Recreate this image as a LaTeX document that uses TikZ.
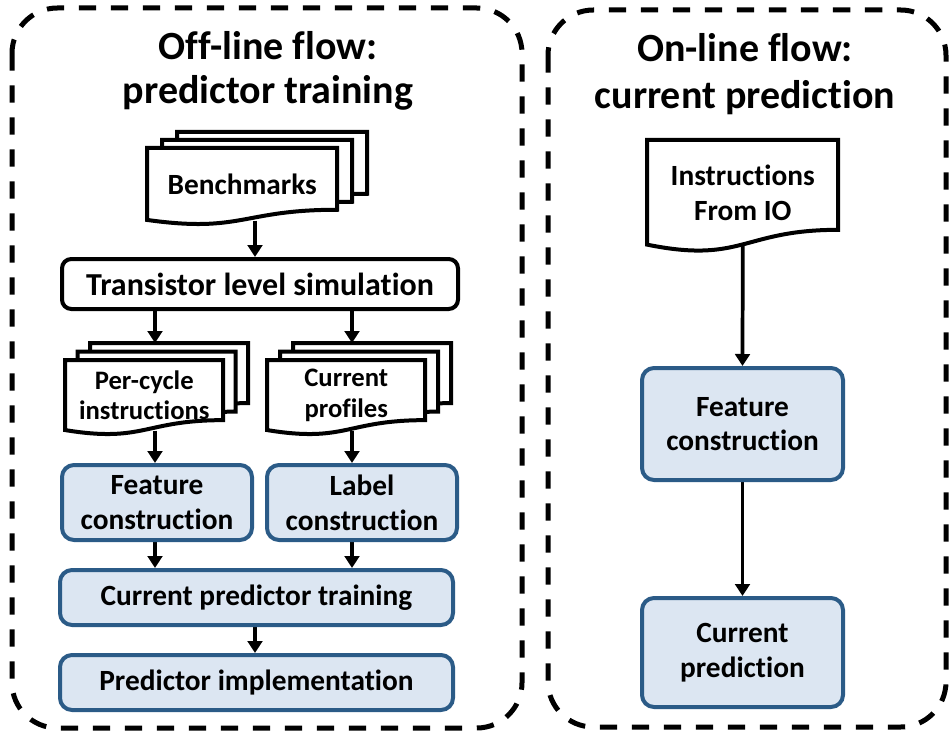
\documentclass[tikz,border=0pt]{standalone}
\usepackage{fontspec}
\setmainfont{Carlito}[Ligatures={NoCommon,NoRare,NoContextual}]
\usetikzlibrary{arrows.meta,calc,backgrounds}
\definecolor{boxfill}{HTML}{DCE6F2}
\definecolor{boxline}{HTML}{2B5B87}
\newcommand{\nodefont}{\fontsize{22}{26}\selectfont\bfseries}
\newcommand{\stackfont}{\fontsize{20}{23}\selectfont\bfseries}
\newcommand{\bigfont}{\fontsize{24}{28}\selectfont\bfseries}
\newcommand{\titlefont}{\fontsize{30}{32.5}\selectfont\bfseries}
\newcommand{\titlefontb}{\fontsize{30}{35}\selectfont\bfseries}
\newcommand{\docshape}[4]{%
  \draw[docline] (#1,#2) -- ({#1+#3},#2) -- ({#1+#3},{#2+0.802*#4})
    .. controls ({#1+0.5*#3},{#2+0.802*#4}) and ({#1+0.5*#3},{#2+1.107*#4}) .. (#1,{#2+0.934*#4}) -- cycle;}
\tikzset{
  frame/.style={draw=black, line width=3.75pt, dash pattern=on 13pt off 11pt, rounded corners=34pt},
  titletext/.style={align=center, font=\titlefont, inner sep=0pt},
  docline/.style={draw=black, fill=white, line width=3pt},
  doctext/.style={align=center, font=\nodefont, inner sep=0pt, anchor=north west},
  bluebox/.style={rounded corners=9pt, draw=boxline, fill=boxfill, line width=3pt, align=center, font=\nodefont, inner sep=0pt},
  whitebox/.style={rounded corners=7pt, draw=black, fill=white, line width=3pt, align=center, font=\bigfont, inner sep=0pt},
  arr/.style={draw=black, line width=2.8pt, -{Triangle[width=11pt,length=9pt]}}
}
\begin{document}
\begin{tikzpicture}[x=0.75pt,y=-0.75pt]
\useasboundingbox (0,0) rectangle (949,731);
% frames
\draw[frame] (12,8) rectangle (522,728);
\draw[frame] (548,10) rectangle (946,727);
% titles
\node[titletext] (t1) at (268,71) {Off-line flow:\\predictor training};
\node[titletext, font=\titlefontb] (t2) at (745,74) {On-line flow:\\current prediction};
% benchmarks stack
\docshape{177}{132}{190}{77}
\docshape{162}{140}{190}{77}
\docshape{147}{148}{190}{77}
\node[doctext, minimum width=142.5pt, minimum height=54pt] (bench) at (147,148) {Benchmarks};
% transistor level simulation
\node[whitebox, minimum width=297pt, minimum height=37.5pt] (trans) at (260,284) {Transistor level simulation};
% per-cycle stack
\docshape{90}{343}{158}{75}
\docshape{77.5}{351.5}{158}{75}
\docshape{65}{360}{158}{75}
\node[doctext, font=\stackfont, minimum width=118.5pt, minimum height=52.5pt] (pc) at (65,360) {Per-cycle\\instructions};
\coordinate (pctop) at (169,343);
% current profiles stack
\docshape{293}{343}{158}{75}
\docshape{280}{351.5}{158}{75}
\docshape{267}{360}{158}{75}
\node[doctext, font=\stackfont, minimum width=118.5pt, minimum height=52.5pt] (cp) at (267,360) {Current\\profiles};
\coordinate (cptop) at (372,343);
% blue boxes left
\node[bluebox, minimum width=142.5pt, minimum height=56.25pt] (featL) at (157,502.5) {Feature\\construction};
\node[bluebox, minimum width=142.5pt, minimum height=56.25pt] (labC) at (362,502.5) {Label\\construction};
\node[bluebox, minimum width=294.75pt, minimum height=41.25pt] (train) at (256.5,597.5) {Current predictor training};
\node[bluebox, minimum width=294.75pt, minimum height=41.25pt] (impl) at (256.5,682.5) {Predictor implementation};
% right column
\docshape{647}{140}{191}{112}
\node[doctext, minimum width=143.25pt, minimum height=78.5pt] (instr) at (647,140) {Instructions\\From IO};
\node[bluebox, minimum width=150.75pt, minimum height=84pt] (featR) at (742.5,424) {Feature\\construction};
\node[bluebox, minimum width=150.75pt, minimum height=81.75pt] (pred) at (742.5,652.5) {Current\\prediction};
% column guides
\coordinate (colL) at (155,0);
\coordinate (colR) at (352,0);
\coordinate (colM) at (255,0);
\begin{scope}[on background layer]
\draw[arr] (bench.south -| colM) -- (trans.north -| colM);
\draw[arr] (trans.south -| colL) -- (pctop -| colL);
\draw[arr] (trans.south -| colR) -- (cptop -| colR);
\draw[arr] (pc.south -| colL) -- (featL.north -| colL);
\draw[arr] (cp.south -| colR) -- (labC.north -| colR);
\draw[arr] (featL.south -| colL) -- (train.north -| colL);
\draw[arr] (labC.south -| colR) -- (train.north -| colR);
\draw[arr] (train.south -| colM) -- (impl.north -| colM);
\draw[arr] (instr.south) -- (featR.north);
\draw[arr] (featR.south) -- (pred.north);
\end{scope}
\end{tikzpicture}
\end{document}
